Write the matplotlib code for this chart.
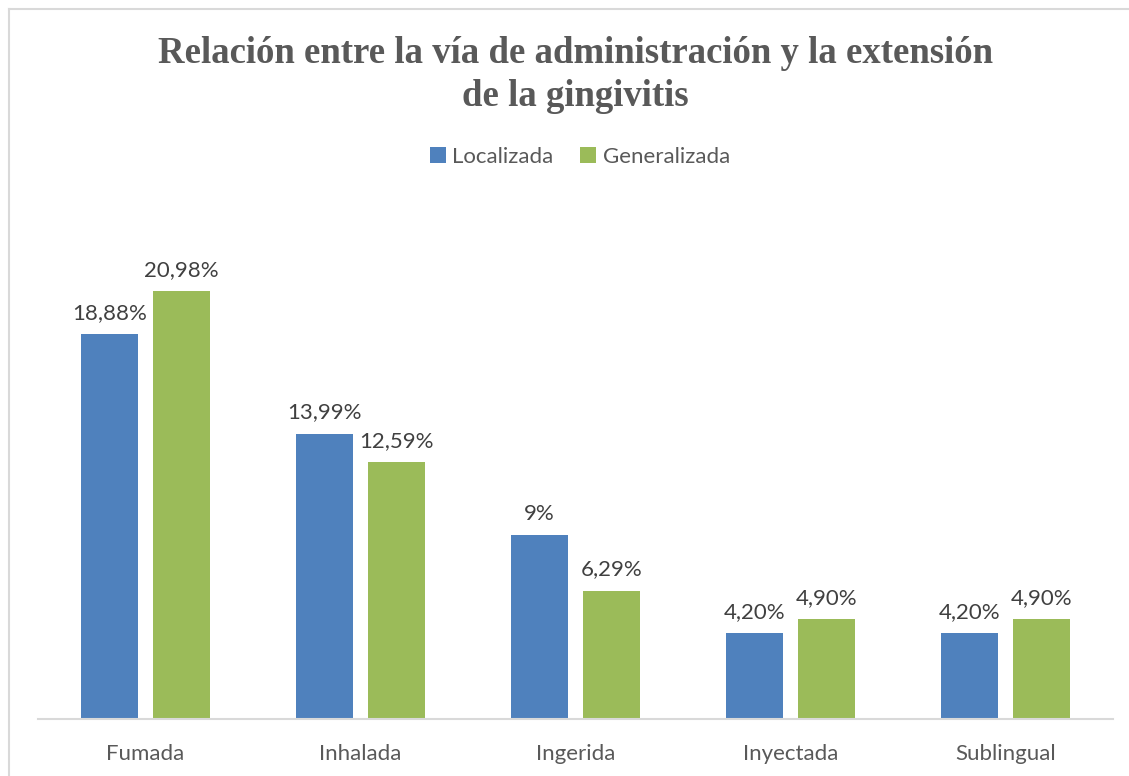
import matplotlib
matplotlib.use("Agg")
from matplotlib import pyplot as plt
from matplotlib.lines import Line2D
import numpy as np

categorias = ["Fumada", "Inhalada", "Ingerida", "Inyectada", "Sublingual"]
localizada = [18.88, 13.99, 9.0, 4.20, 4.20]
generalizada = [20.98, 12.59, 6.29, 4.90, 4.90]
etiquetas_loc = ["18,88%", "13,99%", "9%", "4,20%", "4,20%"]
etiquetas_gen = ["20,98%", "12,59%", "6,29%", "4,90%", "4,90%"]

azul = "#4F81BD"
verde = "#9BBB59"
gris = "#595959"
fuente = "Lato"

W, H = 1129, 776
fig = plt.figure(figsize=(W / 100, H / 100), dpi=100)

# marco gris claro (solo arriba e izquierda se ven)
fig.add_artist(Line2D([9 / W, 1], [1 - 9 / H, 1 - 9 / H], color="#D9D9D9", lw=1.5))
fig.add_artist(Line2D([9 / W, 9 / W], [0, 1 - 9 / H], color="#D9D9D9", lw=1.5))

ax = fig.add_axes([38 / W, 57 / H, (1113 - 38) / W, (719 - 200) / H])

x = np.arange(len(categorias))
ancho = 0.265
sep = 0.035
b1 = ax.bar(x - ancho / 2 - sep, localizada, ancho, color=azul, label="Localizada")
b2 = ax.bar(x + ancho / 2 + sep, generalizada, ancho, color=verde, label="Generalizada")

for barras, etiquetas in ((b1, etiquetas_loc), (b2, etiquetas_gen)):
    for b, t in zip(barras, etiquetas):
        ax.annotate(t, (b.get_x() + b.get_width() / 2, b.get_height()),
                    xytext=(0, 8), textcoords="offset points",
                    ha="center", va="bottom", fontsize=16, color="#404040",
                    family=fuente)

ax.set_xlim(-0.5, len(categorias) - 0.5)
ax.set_ylim(0, 519 / 20.4)
ax.set_xticks(x)
ax.set_xticklabels(categorias, fontsize=16, color=gris, family=fuente)
ax.tick_params(axis="x", length=0, pad=18)
ax.set_yticks([])
for s in ("top", "right", "left"):
    ax.spines[s].set_visible(False)
ax.spines["bottom"].set_color("#D9D9D9")
ax.spines["bottom"].set_linewidth(1.5)

fig.text(575 / W, 1 - 75 / H, "Relación entre la vía de administración y la extensión\nde la gingivitis",
         ha="center", va="center", fontsize=26.5, fontweight="bold", color=gris,
         family="Liberation Serif", linespacing=1.3)

leg = fig.legend(handles=[b1, b2], loc="center", bbox_to_anchor=(580 / W, 1 - 157 / H),
                 ncol=2, frameon=False, handlelength=0.7, handleheight=0.7,
                 handletextpad=0.3, columnspacing=1.2,
                 prop={"family": fuente, "size": 16})
for t in leg.get_texts():
    t.set_color(gris)

fig.savefig("out.png", dpi=100)
